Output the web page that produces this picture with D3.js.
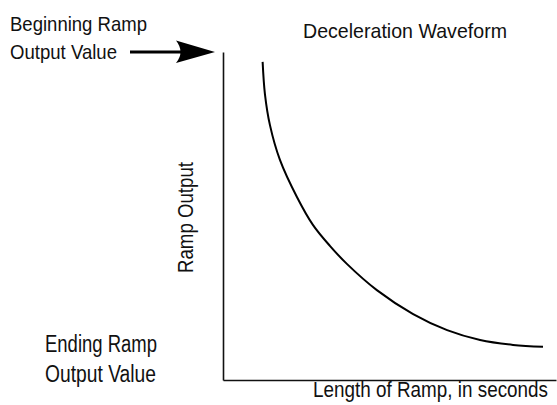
<!DOCTYPE html>
<html>
<head>
<meta charset="utf-8">
<script src="https://cdn.jsdelivr.net/npm/d3@7"></script>
<style>
  html, body { margin: 0; padding: 0; background: #fff; }
  svg { display: block; }
  text { font-family: "Liberation Sans Narrow", "Arial Narrow", "Liberation Sans", sans-serif; fill: #111; }
</style>
</head>
<body>
<svg id="chart" width="557" height="405"></svg>
<script>
// Ramp time (seconds) and ramp output (% of beginning value) along the deceleration curve
const rampTime   = [1.19, 1.26, 1.41, 1.71, 2.22, 2.70, 3.21, 3.72, 4.62, 5.71, 6.73, 7.72, 8.71, 9.61];
const rampOutput = [97.0, 87.1, 77.7, 67.1, 55.8, 47.3, 40.9, 35.4, 27.4, 20.1, 15.2, 12.2, 10.7, 10.1];

const timeDomain   = [0, 10];
const outputDomain = [0, 100];
const beginningValue = 100;

const titleText  = "Deceleration Waveform";
const xAxisTitle = "Length of Ramp, in seconds";
const yAxisTitle = "Ramp Output";
const beginLabel = ["Beginning Ramp", "Output Value"];
const endLabel   = ["Ending Ramp", "Output Value"];

const svg = d3.select("#chart");
const margin = { left: 223, right: 1, top: 52, bottom: 25 };
const W = 557, H = 405;

const x = d3.scaleLinear().domain(timeDomain).range([margin.left, W - margin.right]);
const y = d3.scaleLinear().domain(outputDomain).range([H - margin.bottom, margin.top]);

// Axes: plain lines, no ticks
svg.append("g")
  .attr("transform", `translate(0,${y(0)})`)
  .call(d3.axisBottom(x).tickValues([]).tickSizeOuter(0))
  .call(g => g.select(".domain").attr("stroke", "#111").attr("stroke-width", 1.6));

svg.append("g")
  .attr("transform", `translate(${x(0)},0)`)
  .call(d3.axisLeft(y).tickValues([]).tickSizeOuter(0))
  .call(g => g.select(".domain").attr("stroke", "#111").attr("stroke-width", 1.6));

// Deceleration curve
const pts = rampTime.map((t, i) => [t, rampOutput[i]]);
svg.append("path")
  .datum(pts)
  .attr("fill", "none")
  .attr("stroke", "#000")
  .attr("stroke-width", 2)
  .attr("d", d3.line().x(d => x(d[0])).y(d => y(d[1])).curve(d3.curveCatmullRom.alpha(0.5)));

// Arrow pointing at the beginning output value
const ay = y(beginningValue);
const tipX = x(0) - 8;
svg.append("line")
  .attr("x1", 130).attr("x2", tipX - 28)
  .attr("y1", ay).attr("y2", ay)
  .attr("stroke", "#000").attr("stroke-width", 3);
svg.append("path")
  .attr("fill", "#000")
  .attr("d", `M${tipX},${ay} L${tipX - 39},${ay - 11.5} Q${tipX - 30},${ay} ${tipX - 39},${ay + 11} Z`);

// Text labels
function label(str, xPos, yPos, size, len, rotate) {
  const t = svg.append("text")
    .attr("font-size", size)
    .attr("textLength", len)
    .attr("lengthAdjust", "spacingAndGlyphs")
    .text(str);
  if (rotate) {
    t.attr("transform", `translate(${xPos},${yPos}) rotate(-90)`);
  } else {
    t.attr("x", xPos).attr("y", yPos);
  }
  return t;
}

label(titleText, 303, 38, 21, 204);
label(beginLabel[0], 10, 31, 21, 137);
label(beginLabel[1], 10, 59, 21, 107);
label(endLabel[0], 45, 352, 23, 112);
label(endLabel[1], 45, 382, 23, 111);
label(xAxisTitle, 313, 397, 22, 235);
label(yAxisTitle, 193, 273, 22.5, 111, true);
</script>
</body>
</html>
